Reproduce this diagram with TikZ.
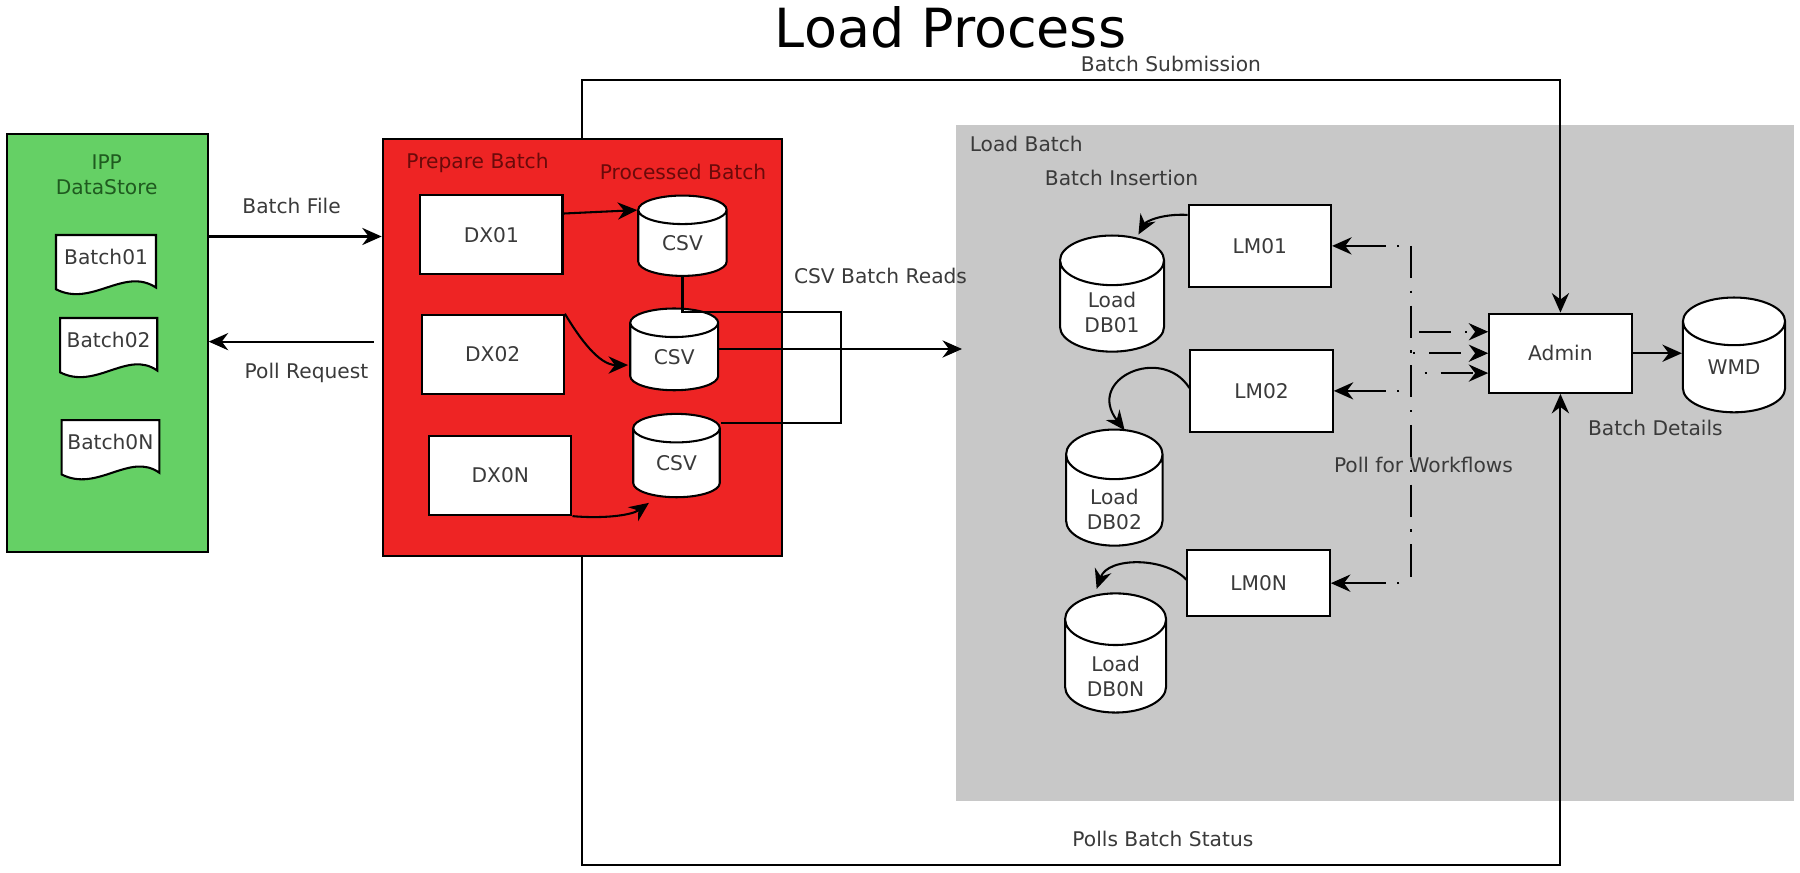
\documentclass[tikz,border=0pt]{standalone}
\usepackage{fontspec}
\setmainfont{DejaVu Sans}
\usetikzlibrary{shapes.geometric,arrows.meta,calc}
\definecolor{gfill}{HTML}{65D065}
\definecolor{rfill}{HTML}{EE2424}
\definecolor{lgray}{HTML}{C8C8C8}
\definecolor{txt}{HTML}{3A3A3A}
\definecolor{rtxt}{HTML}{6A0A0A}
\definecolor{gtxt}{HTML}{1F5A1F}
\begin{document}
\begin{tikzpicture}[x=0.5pt,y=-0.5pt,
  every node/.style={font=\fontsize{8.8}{10.9}\selectfont, text=txt, inner sep=0pt},
  box/.style={draw=black, fill=white, line width=0.9pt, minimum width=62pt, minimum height=34.5pt},
  db/.style={cylinder, shape border rotate=90, aspect=0.7, draw=black, fill=white, line width=0.9pt, align=center},
  bigdb/.style={db, aspect=0.9},
  arr/.style={line width=0.9pt, -{Stealth[length=8.5pt,width=7.5pt,inset=2.8pt]}},
  ln/.style={line width=0.9pt},
  dd/.style={line width=0.9pt, dash pattern=on 14pt off 5.5pt on 1pt off 5.5pt},
  grp/.style={anchor=north west, line width=0.9pt},
]
\useasboundingbox (0,0) rectangle (1568,760);
\fill[white] (0,0) rectangle (1568,760);

% groups
\node[grp, draw=black, fill=gfill, minimum width=87.4pt, minimum height=182.2pt] (ipp) at (5.2,115.6) {};
\node[grp, draw=black, fill=rfill, minimum width=173.75pt, minimum height=181.5pt] (prep) at (332.5,120.5) {};
\node[grp, fill=lgray, minimum width=365pt, minimum height=294.7pt] (lb) at (832,107.6) {};

% title and labels
\node[text=black, font=\fontsize{23.5}{28}\selectfont] (title) at (828,24) {Load Process};
\node (lsub) at (1020,56) {Batch Submission};
\node (lpoll) at (1013,731) {Polls Batch Status};
\node (lbf) at (254,179.5) {Batch File};
\node (lpr) at (267,325) {Poll Request};
\node[text=gtxt, align=center] (lipp) at (93,152) {IPP\\DataStore};
\node[text=rtxt] (lprep) at (416,142) {Prepare Batch};
\node[text=rtxt] (lproc) at (595,150) {Processed Batch};
\node (lcsv) at (767,240) {CSV Batch Reads};
\node (llb) at (894,125) {Load Batch};
\node (lbi) at (977,155) {Batch Insertion};
\node (lbd) at (1442,373) {Batch Details};

% documents
\filldraw[fill=white, ln] (48.8,204.7) -- (135.9,204.7) -- (135.9,250.5) .. controls (108,232) and (80,268) .. (48.8,252) -- cycle;
\filldraw[fill=white, ln] (52.3,277) -- (137,277) -- (137,322.8) .. controls (111,304.3) and (83.5,340.3) .. (52.3,324.3) -- cycle;
\filldraw[fill=white, ln] (53.7,366) -- (138.8,366) -- (138.8,411.8) .. controls (113,393.3) and (85,429.3) .. (53.7,413.3) -- cycle;
\node (b1) at (92.4,223.6) {Batch01};
\node (b2) at (94.6,296) {Batch02};
\node (bn) at (96.2,385) {Batch0N};

% boxes
\node[box] (dx01) at (428,204.5) {DX01};
\node[box] (dx02) at (429.2,308.7) {DX02};
\node[box] (dx0n) at (435.8,414.2) {DX0N};
\node[box, minimum height=35.5pt] (lm01) at (1097.5,214.2) {LM01};
\node[box, minimum height=35.5pt] (lm02) at (1099,340.5) {LM02};
\node[box, minimum height=29pt] (lm0n) at (1096.4,508) {LM0N};
\node[box] (admin) at (1359.3,307.7) {Admin};

% cylinders
\node[db, minimum width=38.5pt, minimum height=35pt] (csv1) at (594.5,212) {CSV};
\node[db, minimum width=38.3pt, minimum height=35.6pt] (csv2) at (587.3,311) {CSV};
\node[db, minimum width=37.7pt, minimum height=36.3pt] (csv3) at (589.3,403.5) {CSV};
\node[bigdb, minimum width=45.3pt, minimum height=50pt] (db01) at (968.7,267) {\phantom{Load}\\\phantom{DB01}};
\node[bigdb, minimum width=42pt, minimum height=49pt] (db02) at (970.7,436) {\phantom{Load}\\\phantom{DB02}};
\node[bigdb, minimum width=44pt, minimum height=48.5pt] (dbn) at (971.8,580.5) {\phantom{Load}\\\phantom{DB0N}};
\node[bigdb, minimum width=44.5pt, minimum height=50pt] (wmd) at (1510.5,320) {\phantom{WMD}};
\node[align=center] (db01t) at ($(db01.south)+(0,-35)$) {Load\\DB01};
\node[align=center] (db02t) at ($(db02.south)+(0,-32)$) {Load\\DB02};
\node[align=center] (dbnt) at ($(dbn.south)+(0,-32)$) {Load\\DB0N};
\node (wmdt) at ($(wmd.south)+(0,-40)$) {WMD};

% helper coordinates
\coordinate (ftl) at (507,70);
\coordinate (fbl) at (507,753.5);
\coordinate (bfy) at (0,206);
\coordinate (pry) at (0,297.6);
\coordinate (d1y) at (0,186);
\coordinate (c2y) at (0,304);
\coordinate (w1y) at (0,307.7);
\coordinate (cr1) at (733,271.5);
\coordinate (cr2) at (733,368.8);
\coordinate (vt) at (1229,214.2);
\coordinate (vb) at (1229,508);
\coordinate (a1) at ($(admin.west)+(0,-18.7)$);
\coordinate (a2) at (admin.west);
\coordinate (a3) at ($(admin.west)+(0,17.3)$);

% frame connectors
\draw[arr] (prep.north -| ftl) -- (ftl) -- (ftl -| admin.north) -- (admin.north);
\draw[arr] (prep.south -| fbl) -- (fbl) -- (fbl -| admin.south) -- (admin.south);

% batch file / poll request
\draw[arr] (ipp.east |- bfy) -- (prep.west |- bfy);
\draw[arr] ($(prep.west |- pry)+(-7,0)$) -- (ipp.east |- pry);

% DX -> CSV
\draw[arr] (dx01.east |- d1y) -- ($(csv1.west)+(0,-29)$);
\draw[arr] (dx02.north east) .. controls (505,295) and (522,318) .. ($(csv2.west)+(-1,7)$);
\draw[arr] (dx0n.south east) .. controls (525,452) and (550,449) .. ($(csv3.south)+(-24,4)$);

% CSV batch reads
\draw[ln] (csv1.south) -- (csv1.south |- cr1) -- (cr1) -- (cr2) -- (csv3.east |- cr2);
\draw[arr] (csv2.east |- c2y) -- ($(lb.west |- c2y)+(6,0)$);

% LM -> DB
\draw[arr] ($(lm01.west)+(0,-27)$) .. controls (1012,186) and (998,193) .. ($(db01.north)+(23,0)$);
\draw[arr] ($(lm02.west)+(0,-2.5)$) .. controls (1012,300) and (945,330) .. ($(db02.north)+(9,1.5)$);
\draw[arr] ($(lm0n.west)+(0,-3)$) .. controls (1015,485) and (965,485) .. ($(dbn.north)+(-16.5,-3)$);

% poll for workflows
\draw[dd] (vt) -- (vb);
\draw[arr, dash pattern=on 40pt off 5pt on 1pt off 5pt, dash phase=40pt] (lm01.east -| vt) -- (lm01.east);
\draw[arr, dash pattern=on 40pt off 5pt on 1pt off 5pt, dash phase=40pt] (lm02.east -| vt) -- (lm02.east);
\draw[arr, dash pattern=on 40pt off 5pt on 1pt off 5pt, dash phase=40pt] (lm0n.east -| vt) -- (lm0n.east);
\draw[arr, dash pattern=on 14pt off 6pt on 1pt off 6pt, dash phase=23.4pt] (vt |- a1) -- (a1);
\draw[arr, dash pattern=on 14pt off 6pt on 1pt off 6pt, dash phase=19pt] (vt |- a2) -- (a2);
\draw[arr, dash pattern=on 14pt off 6pt on 1pt off 6pt, dash phase=14pt] (vt |- a3) -- (a3);
\node (lpw) at (1240,405) {Poll for Workflows};

% admin -> wmd
\draw[arr] (admin.east) -- (wmd.west |- w1y);
\end{tikzpicture}
\end{document}
